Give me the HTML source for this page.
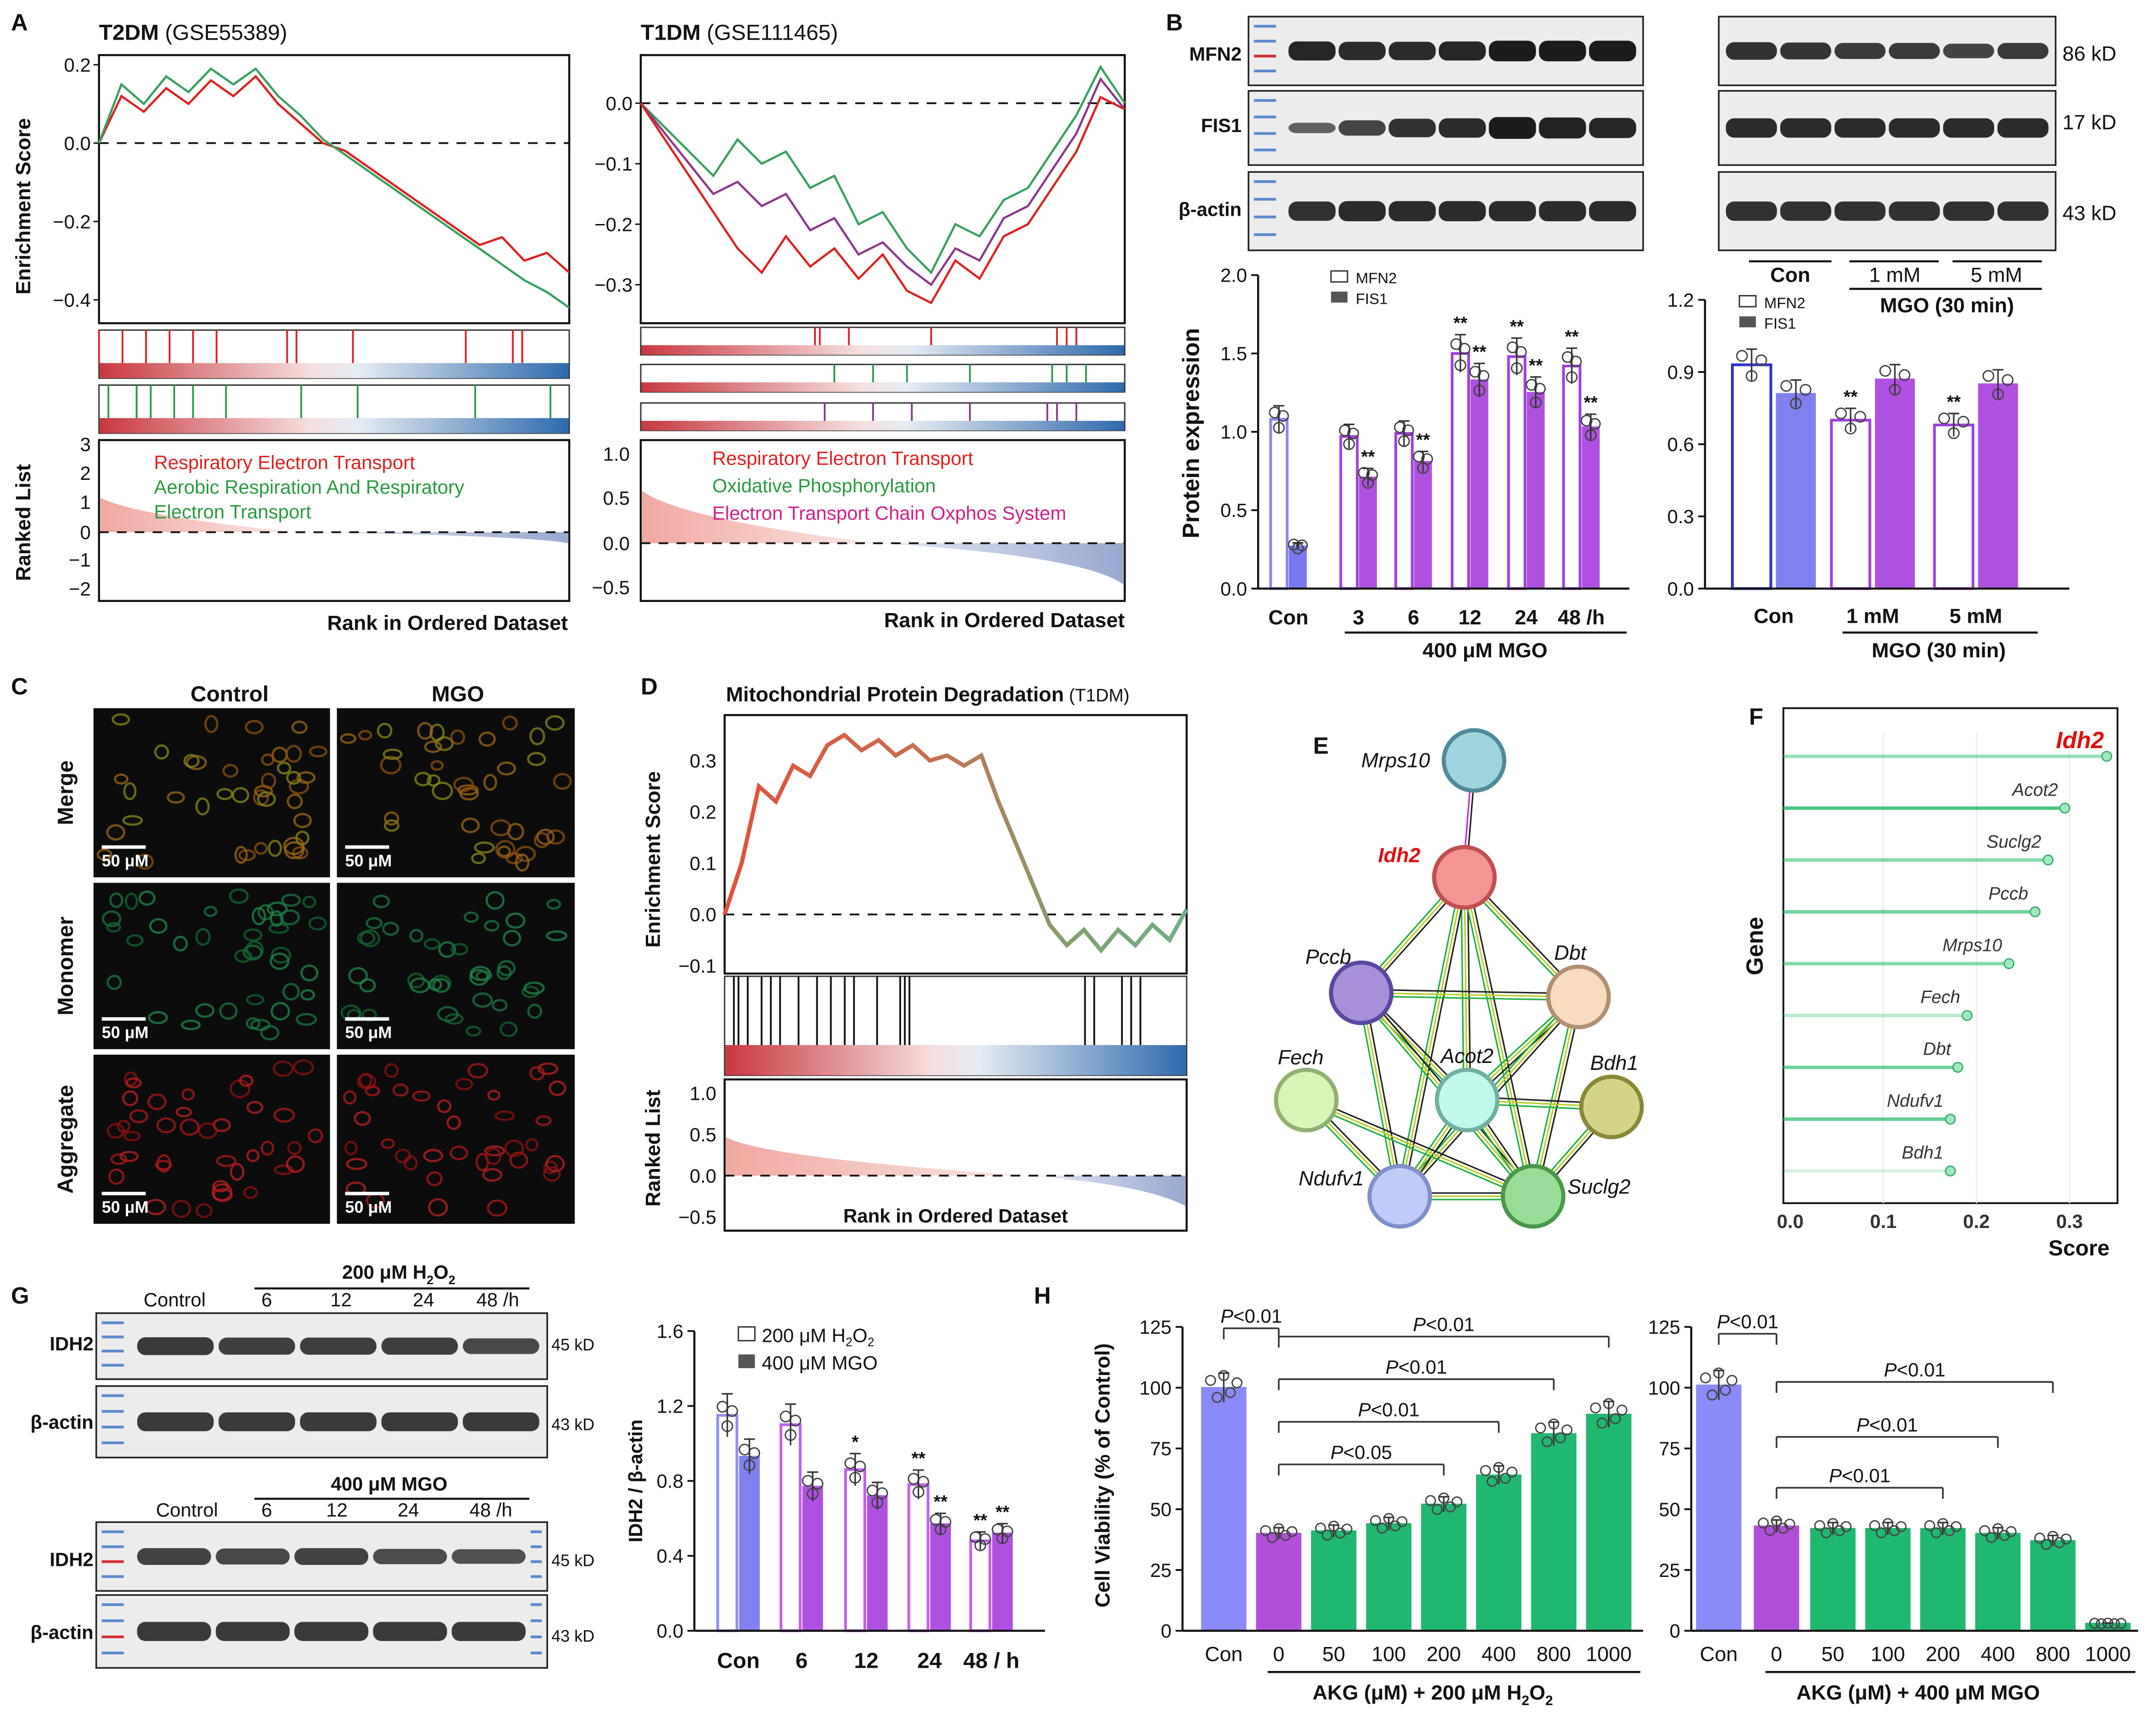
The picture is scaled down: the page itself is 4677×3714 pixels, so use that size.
<!DOCTYPE html>
<html><head><meta charset="utf-8"><style>
html,body{margin:0;padding:0;background:#fff;}
svg{display:block;font-family:"Liberation Sans",Arial,sans-serif;}
</style></head><body>
<svg id="fig" width="4677" height="3714" viewBox="0 0 1568 1245" xmlns="http://www.w3.org/2000/svg">
<defs>
<linearGradient id="rb" x1="0" x2="1"><stop offset="0" stop-color="#c8383f"/><stop offset="0.45" stop-color="#f6dede"/><stop offset="0.55" stop-color="#e6ecf4"/><stop offset="1" stop-color="#2f6aad"/></linearGradient>
<linearGradient id="rankR" x1="0" x2="1"><stop offset="0" stop-color="#f0a8a0"/><stop offset="1" stop-color="#fbe8e4"/></linearGradient>
<linearGradient id="rankB" x1="0" x2="1"><stop offset="0" stop-color="#e8ecf6"/><stop offset="1" stop-color="#98a8d0"/></linearGradient>
<linearGradient id="esD" x1="527" x2="863" gradientUnits="userSpaceOnUse"><stop offset="0" stop-color="#e2503a"/><stop offset="0.45" stop-color="#c87050"/><stop offset="0.75" stop-color="#80a070"/><stop offset="1" stop-color="#70b088"/></linearGradient>
</defs>
</svg>
<script>
// ---------- data ----------
const t2dmRed=[0,0.12,0.08,0.14,0.10,0.16,0.12,0.17,0.10,0.05,0.00,-0.02,-0.06,-0.10,-0.14,-0.18,-0.22,-0.26,-0.24,-0.30,-0.28,-0.33];
const t2dmGreen=[0,0.15,0.10,0.17,0.13,0.19,0.15,0.19,0.12,0.07,0.01,-0.03,-0.07,-0.11,-0.15,-0.19,-0.23,-0.27,-0.31,-0.35,-0.38,-0.42];
const t1dmRed=[0,-0.06,-0.12,-0.18,-0.24,-0.28,-0.22,-0.27,-0.24,-0.29,-0.25,-0.31,-0.33,-0.26,-0.29,-0.22,-0.20,-0.14,-0.08,0.01,-0.01];
const t1dmGreen=[0,-0.04,-0.08,-0.12,-0.06,-0.1,-0.08,-0.14,-0.12,-0.2,-0.18,-0.24,-0.28,-0.2,-0.22,-0.16,-0.14,-0.08,-0.02,0.06,0.0];
const t1dmPurple=[0,-0.05,-0.10,-0.15,-0.13,-0.17,-0.15,-0.21,-0.19,-0.25,-0.23,-0.27,-0.3,-0.24,-0.26,-0.19,-0.17,-0.11,-0.05,0.04,-0.01];
const mitoES=[0,0.1,0.25,0.22,0.29,0.27,0.33,0.35,0.32,0.34,0.31,0.33,0.30,0.31,0.29,0.31,0.22,0.14,0.06,-0.02,-0.06,-0.03,-0.07,-0.03,-0.06,-0.02,-0.05,0.01];
const bGroups=['Con','3','6','12','24','48 /h'];
const bMFN2=[1.08,0.97,0.99,1.50,1.48,1.42];
const bFIS1=[0.27,0.71,0.81,1.33,1.25,1.03];
const bRGroups=['Con','1 mM','5 mM'];
const bRMFN2=[0.93,0.70,0.68];
const bRFIS1=[0.81,0.87,0.85];
const fGenes=['Idh2','Acot2','Suclg2','Pccb','Mrps10','Fech','Dbt','Ndufv1','Bdh1'];
const fScores=[0.34,0.295,0.277,0.263,0.235,0.19,0.18,0.172,0.172];
const gGroups=['Con','6','12','24','48 / h'];
const gH2O2=[1.15,1.10,0.86,0.78,0.48];
const gMGO=[0.93,0.77,0.72,0.57,0.52];
const hCats=['Con','0','50','100','200','400','800','1000'];
const hLeft=[100,40,41,44,52,64,81,89];
const hRight=[101,43,42,42,42,40,37,3];

// ---------- helpers ----------
const NS='http://www.w3.org/2000/svg';
const svg=document.getElementById('fig');
function mk(tag,attrs,parent){const e=document.createElementNS(NS,tag);for(const k in attrs)e.setAttribute(k,attrs[k]);(parent||svg).appendChild(e);return e;}
function tx(x,y,s,size,opts){const e=mk('text',Object.assign({x:x,y:y,'font-size':size,fill:'#111'},opts||{}));e.textContent=s;return e;}
function ln(x1,y1,x2,y2,st,w,extra){return mk('line',Object.assign({x1,y1,x2,y2,stroke:st||'#111','stroke-width':w||1.5},extra||{}));}
function vtext(x,y,s,size){const e=tx(x,y,s,size,{'font-weight':'bold','text-anchor':'middle',transform:'rotate(-90 '+x+' '+y+')'});return e;}
let seed=7;function rnd(){seed=(seed*16807)%2147483647;return seed/2147483647;}

// panel labels
[['A',8,22],['B',848,22],['C',8,505],['D',466,505],['E',955,548],['F',1272,527],['G',8,948],['H',752,948]].forEach(p=>{const e=tx(p[1],p[2],p[0],17,{'font-weight':'bold'});

});

// ---------- GSEA generic ----------
function gsea(cfg){
  const g=mk('g',{});
  
  
  const box=mk('rect',{x:cfg.x0,y:cfg.y0,width:cfg.x1-cfg.x0,height:cfg.y1-cfg.y0,fill:'none',stroke:'#111','stroke-width':1.5},g);
  
  
  const yv=v=>cfg.yz-v*cfg.k;
  const zl=ln(cfg.x0,yv(0),cfg.x1,yv(0),'#111',1.3,{'stroke-dasharray':'7 6'});g.appendChild(zl);
  
  
  cfg.ticks.forEach(t=>{const e=tx(cfg.x0-6,yv(t)+5,(t<0?'\u2212':'')+Math.abs(t).toFixed(1),14,{'text-anchor':'end'});g.appendChild(e);
    
    
    const tk=ln(cfg.x0-4,yv(t),cfg.x0,yv(t),'#111',1);g.appendChild(tk);});
  cfg.series.forEach(s=>{
    const n=s.vals.length;let d='';
    s.vals.forEach((v,i)=>{const x=cfg.x0+(cfg.x1-cfg.x0)*i/(n-1);d+=(i?'L':'M')+x.toFixed(1)+' '+yv(v).toFixed(1);});
    const p=mk('path',{d:d,fill:'none',stroke:s.color,'stroke-width':1.6},g);
    
    
  });
  return yv;
}
function strip(x0,y0,x1,y1,hits,color,gradH,name){
  const r=mk('rect',{x:x0,y:y0,width:x1-x0,height:y1-y0,fill:'#fff',stroke:'#333','stroke-width':1});
  
  
  mk('rect',{x:x0+0.5,y:y1-gradH,width:x1-x0-1,height:gradH,fill:'url(#rb)'});
  hits.forEach(f=>{ln(x0+(x1-x0)*f,y0,x0+(x1-x0)*f,y1-gradH,color,1.3);});
}
function ranked(x0,y0,x1,y1,yz,pos,neg,split,name){
  const r=mk('rect',{x:x0,y:y0,width:x1-x0,height:y1-y0,fill:'none',stroke:'#111','stroke-width':1.5});
  
  
  const xs=x0+(x1-x0)*split;
  mk('path',{d:`M${x0+1} ${yz} L${x0+1} ${yz-pos} Q${x0+30} ${yz-pos*0.45} ${xs} ${yz} Z`,fill:'url(#rankR)'});
  mk('path',{d:`M${xs} ${yz} Q${x1-30} ${yz+neg*0.3} ${x1-1} ${yz+neg} L${x1-1} ${yz} Z`,fill:'url(#rankB)'});
  ln(x0,yz,x1,yz,'#111',1.3,{'stroke-dasharray':'7 6'});
}

// ---------- Panel A left ----------
{const t=tx(72,29,'',16);t.innerHTML='<tspan font-weight="bold">T2DM</tspan> (GSE55389)';

}
gsea({name:'t2dm-es-plot',x0:72,y0:40,x1:414,y1:235,yz:104,k:285,ticks:[0.2,0,-0.2,-0.4],
 series:[{vals:t2dmRed,color:'#e02020',name:'t2dm-red-es-line'},{vals:t2dmGreen,color:'#3aa060',name:'t2dm-green-es-line'}]});
strip(72,240,414,275,[0.0,0.05,0.1,0.15,0.2,0.25,0.4,0.42,0.54,0.78,0.88,0.9],'#e02020',11,'t2dm-red-hits');
strip(72,280,414,315,[0.02,0.08,0.11,0.16,0.2,0.27,0.43,0.55,0.8,0.96],'#2a9a50',11,'t2dm-green-hits');
ranked(72,320,414,437,387,25,8,0.42,'t2dm-ranked-list');
[[3,323],[2,344],[1,365],[0,387],[-1,407],[-2,428]].forEach(a=>{tx(66,a[1]+5,(a[0]<0?'\u2212':'')+Math.abs(a[0]),14,{'text-anchor':'end'});});
{const e=tx(112,341,'Respiratory Electron Transport',14,{fill:'#e02020'});}
{const e=tx(112,359,'Aerobic Respiration And Respiratory',14,{fill:'#2a9a40'});}
tx(112,377,'Electron Transport',14,{fill:'#2a9a40'});
tx(413,458,'Rank in Ordered Dataset',15,{'font-weight':'bold','text-anchor':'end'});
vtext(22,150,'Enrichment Score',15);
vtext(22,380,'Ranked List',15);

// ---------- Panel A right ----------
{const t=tx(466,29,'',16);t.innerHTML='<tspan font-weight="bold">T1DM</tspan> (GSE111465)';

}
gsea({name:'t1dm-es-plot',x0:466,y0:40,x1:818,y1:235,yz:75,k:440,ticks:[0,-0.1,-0.2,-0.3],
 series:[{vals:t1dmGreen,color:'#3aa060',name:'t1dm-green-es-line'},{vals:t1dmPurple,color:'#8a3a8a',name:'t1dm-purple-es-line'},{vals:t1dmRed,color:'#e02020',name:'t1dm-red-es-line'}]});
strip(466,238,818,258,[0.36,0.37,0.43,0.6,0.86,0.88,0.9],'#e02020',7,'t1dm-red-hits');
strip(466,265,818,285,[0.4,0.48,0.55,0.68,0.85,0.88,0.92],'#2a9a50',7,'t1dm-green-hits');
strip(466,293,818,313,[0.38,0.48,0.56,0.68,0.84,0.86,0.9],'#8a3a8a',7,'t1dm-purple-hits');
ranked(466,320,818,437,395,38,30,0.49,'t1dm-ranked-list');
[['1.0',330],['0.5',362],['0.0',395],['\u22120.5',427]].forEach(a=>{tx(458,a[1]+5,a[0],14,{'text-anchor':'end'});});
tx(518,338,'Respiratory Electron Transport',14,{fill:'#e02020'});
tx(518,358,'Oxidative Phosphorylation',14,{fill:'#2a9a40'});
tx(518,378,'Electron Transport Chain Oxphos System',14,{fill:'#d0208a'});
tx(818,456,'Rank in Ordered Dataset',15,{'font-weight':'bold','text-anchor':'end'});

// ---------- blots ----------
function blot(x0,y0,x1,y1,lanes,widths,dark,ladder,name,ladderRight){
  const g=mk('g',{});
  
  
  mk('rect',{x:x0,y:y0,width:x1-x0,height:y1-y0,fill:'#ececec',stroke:'#222','stroke-width':1.2},g);
  const lx=ladder?x0+28:x0+4;const rx=ladderRight?x1-14:x1-4;
  if(ladder){for(let i=0;i<4;i++)mk('rect',{x:x0+4,y:y0+6+i*(y1-y0-12)/3.5,width:16,height:2,fill:i==2&&ladder=='red'?'#d03030':'#5a8ad0'},g);}
  if(ladderRight){for(let i=0;i<4;i++)mk('rect',{x:x1-12,y:y0+6+i*(y1-y0-12)/3.5,width:8,height:2,fill:'#5a8ad0'},g);}
  const lw=(rx-lx)/lanes;
  for(let i=0;i<lanes;i++){const w=widths[i]||0.8;
    mk('rect',{x:lx+lw*(i+0.5)-lw*0.47,y:(y0+y1)/2-((y1-y0)*0.11*w+2),width:lw*0.94,height:2*((y1-y0)*0.11*w+2),rx:6,fill:dark,opacity:0.5+0.45*w},g);}
}
blot(908,12,1195,62,7,[0.9,0.85,0.85,0.9,1,1,1],'#111','red','blot-b-mfn2');
blot(908,66,1195,120,7,[0.3,0.6,0.8,0.85,1,0.95,0.9],'#111','blue','blot-b-fis1');
blot(908,125,1195,182,7,[0.8,0.85,0.85,0.85,0.85,0.85,0.85],'#111','blue','blot-b-actin');
blot(1250,12,1495,62,6,[0.8,0.75,0.7,0.7,0.6,0.7],'#111',null,'blot-b2-mfn2');
blot(1250,66,1495,120,6,[0.85,0.85,0.85,0.85,0.85,0.85],'#111',null,'blot-b2-fis1');
blot(1250,125,1495,182,6,[0.8,0.8,0.8,0.8,0.8,0.8],'#111',null,'blot-b2-actin');
[['MFN2',44],['FIS1',96],['\u03b2-actin',157]].forEach(a=>tx(903,a[1],a[0],14,{'font-weight':'bold','text-anchor':'end'}));
[['86 kD',44],['17 kD',94],['43 kD',160]].forEach(a=>tx(1500,a[1],a[0],15));
tx(1302,205,'Con',15,{'font-weight':'bold','text-anchor':'middle'});
tx(1378,205,'1 mM',15,{'text-anchor':'middle'});
tx(1452,205,'5 mM',15,{'text-anchor':'middle'});
ln(1272,190,1332,190);ln(1345,190,1410,190);ln(1420,190,1485,190);
ln(1345,210,1485,210);
tx(1416,227,'MGO (30 min)',15,{'font-weight':'bold','text-anchor':'middle'});

// ---------- bar chart helper ----------
function barChart(c){
  const g=mk('g',{});
  
  
  const yv=v=>c.yb-(v-0)/(c.ymax)*(c.yb-c.yt);
  ln(c.x0,c.yt,c.x0,c.yb,'#111',1.5);ln(c.x0,c.yb,c.x1,c.yb,'#111',1.5);
  c.ticks.forEach(t=>{ln(c.x0-5,yv(t),c.x0,yv(t),'#111',1.3);
    const e=tx(c.x0-8,yv(t)+5,c.fmt(t),c.fs||14,{'text-anchor':'end'});
    
    });
  c.groups.forEach((gname,i)=>{
    const cx=c.cx[i];
    c.series.forEach((s,j)=>{
      const v=s.vals[i];const bx=cx+(j-(c.series.length-1)/2)*c.bw*1.15-c.bw/2;
      const open=s.open;const col=s.colorFn(i);
      const b=mk('rect',{x:bx,y:yv(v),width:c.bw,height:c.yb-yv(v),fill:open?'#fff':col,stroke:col,'stroke-width':open?2:1},g);
      
      
      const eb=c.err;ln(bx+c.bw/2,yv(v*(1-eb)),bx+c.bw/2,yv(v*(1+eb)),'#333',1.1);ln(bx+c.bw/2-4,yv(v*(1+eb)),bx+c.bw/2+4,yv(v*(1+eb)),'#333',1.1);
      const offs=c.dots||[[-0.25,0.04],[0.25,0.02],[0,-0.05]];
      offs.forEach(o=>mk('circle',{cx:bx+c.bw/2+o[0]*c.bw,cy:yv(v*(1+o[1])),r:c.dr||3.8,fill:'none',stroke:'#444','stroke-width':1},g));
      if(s.stars&&s.stars[i])tx(bx+c.bw/2,yv(v*(1+eb))-4,s.stars[i],13,{'text-anchor':'middle','font-weight':'bold'});
    });
    if(c.xlab!==false){const e=tx(cx,c.yb+c.xly,gname,c.xfs||15,{'text-anchor':'middle','font-weight':c.xbold?'bold':'normal'});
    
    }
  });
}
// B left
barChart({name:'b-protein-bar-chart',x0:915,x1:1185,yt:200,yb:428,ymax:2,ticks:[0,0.5,1,1.5,2],fmt:t=>t.toFixed(1),
 groups:bGroups,cx:[937,988,1028,1069,1110,1150],bw:12,err:0.08,xly:26,xbold:true,
 series:[{key:'mfn2',vals:bMFN2,open:true,colorFn:i=>i?'#a040e0':'#8888f0',stars:['','','','**','**','**']},
         {key:'fis1',vals:bFIS1,open:false,colorFn:i=>i?'#b050e0':'#7878f0',stars:['','**','**','**','**','**']}]});
vtext(872,315,'Protein expression',17);
mk('rect',{x:968,y:197,width:12,height:8,fill:'#fff',stroke:'#333'});tx(986,206,'MFN2',11);
mk('rect',{x:968,y:212,width:12,height:8,fill:'#555'});tx(986,221,'FIS1',11);
ln(978,460,1183,460);tx(1080,478,'400 \u03bcM MGO',15,{'font-weight':'bold','text-anchor':'middle'});
// B right
barChart({name:'b2-protein-bar-chart',x0:1240,x1:1505,yt:218,yb:428,ymax:1.2,ticks:[0,0.3,0.6,0.9,1.2],fmt:t=>t.toFixed(1),
 groups:bRGroups,cx:[1290,1362,1437],bw:28,err:0.07,xly:25,xbold:true,
 series:[{key:'mfn2',vals:bRMFN2,open:true,colorFn:i=>i?'#a040e0':'#3030d0',stars:['','**','**']},
         {key:'fis1',vals:bRFIS1,open:false,colorFn:i=>i?'#b050e0':'#8080f0'}]});
mk('rect',{x:1265,y:215,width:12,height:8,fill:'#fff',stroke:'#333'});tx(1283,224,'MFN2',11);
mk('rect',{x:1265,y:230,width:12,height:8,fill:'#555'});tx(1283,239,'FIS1',11);
ln(1340,460,1482,460);tx(1410,478,'MGO (30 min)',15,{'font-weight':'bold','text-anchor':'middle'});

// ---------- Panel C ----------
tx(167,510,'Control',16,{'font-weight':'bold','text-anchor':'middle'});
tx(333,510,'MGO',16,{'font-weight':'bold','text-anchor':'middle'});
const rowsC=[['Merge',515,638],['Monomer',642,763],['Aggregate',767,890]];
rowsC.forEach((r,ri)=>{
  vtext(53,(r[1]+r[2])/2,r[0],16);
  [[68,240],[245,418]].forEach((cc,ci)=>{
    const img=mk('rect',{x:cc[0],y:r[1],width:cc[1]-cc[0],height:r[2]-r[1],fill:'#0c0c0c'});
    
    
    const cols=[['#a06818','#905010','#8a8a18'],['#1a7a40','#208a48','#106830'],['#b01818','#901010','#c02020']][ri];
    for(let k=0;k<40;k++){const x=cc[0]+8+rnd()*(cc[1]-cc[0]-16),y=r[1]+8+rnd()*(r[2]-r[1]-16);
      mk('ellipse',{cx:x,cy:y,rx:4+rnd()*3,ry:3+rnd()*3,fill:'none',stroke:cols[k%3],'stroke-width':1.6,opacity:0.75});}
    ln(cc[0]+6,r[2]-22,cc[0]+38,r[2]-22,'#fff',2.5);
    tx(cc[0]+6,r[2]-8,'50 \u03bcM',12,{fill:'#fff','font-weight':'bold'});
  });
});

// ---------- Panel D ----------
{const t=tx(528,510,'',15);t.innerHTML='<tspan font-weight="bold">Mitochondrial Protein Degradation</tspan><tspan font-size="13"> (T1DM)</tspan>';}
{const x0=527,x1=863,yz=665,k=373;
 const fr=mk('rect',{x:x0,y:520,width:x1-x0,height:188,fill:'none',stroke:'#111','stroke-width':1.5});
 
 
 ln(x0,yz,x1,yz,'#111',1.3,{'stroke-dasharray':'7 6'});
 [0.3,0.2,0.1,0,-0.1].forEach(t=>tx(x0-6,yz-t*k+5,(t<0?'\u2212':'')+Math.abs(t).toFixed(1),14,{'text-anchor':'end'}));
 let d='';mitoES.forEach((v,i)=>{const x=x0+(x1-x0)*i/(mitoES.length-1);d+=(i?'L':'M')+x.toFixed(1)+' '+(yz-v*k).toFixed(1);});
 const p=mk('path',{d:d,fill:'none',stroke:'url(#esD)','stroke-width':3});
 
 
 strip(x0,710,x1,782,[0.02,0.03,0.05,0.08,0.1,0.12,0.16,0.2,0.23,0.26,0.28,0.33,0.38,0.39,0.4,0.78,0.8,0.86,0.88,0.9],'#111',22,'d-hit-strip');
 ranked(x0,785,x1,895,855,28,22,0.66,'d-ranked-list');
 [['1.0',795],['0.5',825],['0.0',855],['\u22120.5',885]].forEach(a=>tx(x0-6,a[1]+5,a[0],14,{'text-anchor':'end'}));
 tx(695,889,'Rank in Ordered Dataset',14,{'font-weight':'bold','text-anchor':'middle'});
 vtext(480,625,'Enrichment Score',15);vtext(480,835,'Ranked List',15);}

// ---------- Panel E network ----------
const nodes={Mrps10:[1072,553,'#9fd4de','#4f8a9a'],Idh2:[1065,638,'#f49494','#c05050'],Pccb:[990,722,'#a890d8','#5a48a0'],Dbt:[1148,725,'#f8dcc0','#b09070'],
Acot2:[1067,800,'#c0f8ec','#70b0a0'],Fech:[950,800,'#d8f4b8','#90b070'],Bdh1:[1172,805,'#d4d488','#888838'],Ndufv1:[1018,870,'#c0ccf8','#8090c8'],Suclg2:[1115,870,'#98dc98','#489848']};
const edges=[['Mrps10','Idh2'],['Idh2','Pccb'],['Idh2','Dbt'],['Idh2','Acot2'],['Idh2','Ndufv1'],['Idh2','Suclg2'],['Pccb','Dbt'],['Pccb','Acot2'],['Pccb','Ndufv1'],['Pccb','Suclg2'],
['Dbt','Acot2'],['Dbt','Suclg2'],['Dbt','Ndufv1'],['Acot2','Bdh1'],['Acot2','Ndufv1'],['Acot2','Suclg2'],['Fech','Ndufv1'],['Fech','Suclg2'],['Bdh1','Suclg2'],['Ndufv1','Suclg2']];
const ecol=['#222','#b8d020','#20b040','#d020d0'];
edges.forEach(e=>{const a=nodes[e[0]],b=nodes[e[1]];const dx=b[0]-a[0],dy=b[1]-a[1],L=Math.hypot(dx,dy),nx=-dy/L,ny=dx/L;
  const cs=e[0]=='Mrps10'?['#222','#d020d0']:ecol.slice(0,3);
  cs.forEach((c,i)=>{const o=(i-(cs.length-1)/2)*2.4;ln(a[0]+nx*o,a[1]+ny*o,b[0]+nx*o,b[1]+ny*o,c,1.1);});});
Object.keys(nodes).forEach(n=>{const v=nodes[n];
  const c=mk('circle',{cx:v[0],cy:v[1],r:22,fill:v[2],stroke:v[3],'stroke-width':3});
  
  });
[['Mrps10',1040,558,'end'],['Idh2',1033,627,'end'],['Pccb',966,701,'middle'],['Dbt',1142,698,'middle'],['Acot2',1067,773,'middle'],['Fech',946,774,'middle'],['Bdh1',1174,778,'middle'],['Ndufv1',992,862,'end'],['Suclg2',1140,868,'start']]
.forEach(a=>{const e=tx(a[1],a[2],a[0],15,{'font-style':'italic','text-anchor':a[3],fill:a[0]=='Idh2'?'#e01010':'#111','font-weight':a[0]=='Idh2'?'bold':'normal'});
  
  });

// ---------- Panel F lollipop ----------
{const x0=1297,x1=1540,yt=515,yb=875,xv=v=>1302+v*677;
 const fr=mk('rect',{x:x0,y:yt,width:x1-x0,height:yb-yt,fill:'none',stroke:'#111','stroke-width':1.3});
 
 
 [0.1,0.2,0.3].forEach(t=>ln(xv(t),yt+18,xv(t),yb,'#eee',1));
 [0,0.1,0.2,0.3].forEach(t=>{const e=tx(xv(t),893,t.toFixed(1),14,{'text-anchor':'middle','font-weight':'bold',fill:'#333'});
   
   });
 fGenes.forEach((gname,i)=>{const y=550+i*37.7;const op=[0.5,0.9,0.6,0.7,0.6,0.35,0.7,0.75,0.2][i];
   const l=ln(x0,y,xv(fScores[i]),y,'#30c070',2.5,{opacity:op});
   
   
   mk('circle',{cx:xv(fScores[i]),cy:y,r:3.5,fill:'#a0e8c0',stroke:'#40b070','stroke-width':1});
   const big=i==0;
   tx(xv(fScores[i])-(big?2:5),y-(big?6:9),gname,big?17:13,{'text-anchor':'end','font-style':'italic',fill:big?'#e01010':'#333','font-weight':big?'bold':'normal'});});
 tx(1512,913,'Score',16,{'font-weight':'bold','text-anchor':'middle'});
 vtext(1282,688,'Gene',17);}

// ---------- Panel G ----------
{const t=tx(290,930,'',14,{'font-weight':'bold','text-anchor':'middle'});t.innerHTML='200 \u03bcM H<tspan font-size="9" dy="4">2</tspan><tspan dy="-4">O</tspan><tspan font-size="9" dy="4">2</tspan>';}
ln(185,937,385,937);
tx(127,950,'Control',14,{'text-anchor':'middle'});[['6',194],['12',248],['24',308],['48 /h',362]].forEach(a=>tx(a[1],950,a[0],14,{'text-anchor':'middle'}));
blot(70,955,398,1003,5,[0.85,0.8,0.8,0.8,0.7],'#222','blue','blot-g-idh2-h2o2');
blot(70,1008,398,1060,5,[0.85,0.85,0.85,0.85,0.85],'#222','blue','blot-g-actin-h2o2');
tx(283,1084,'400 \u03bcM MGO',14,{'font-weight':'bold','text-anchor':'middle'});ln(185,1090,385,1090);
tx(136,1103,'Control',14,{'text-anchor':'middle'});[['6',194],['12',245],['24',297],['48 /h',357]].forEach(a=>tx(a[1],1103,a[0],14,{'text-anchor':'middle'}));
blot(70,1107,398,1157,5,[0.75,0.7,0.75,0.65,0.6],'#222','red','blot-g-idh2-mgo',true);
blot(70,1160,398,1213,5,[0.85,0.85,0.85,0.85,0.85],'#222','red','blot-g-actin-mgo',true);
[['IDH2',982],['\u03b2-actin',1039],['IDH2',1139],['\u03b2-actin',1192]].forEach(a=>tx(68,a[1],a[0],14,{'font-weight':'bold','text-anchor':'end'}));
[['45 kD',982],['43 kD',1040],['45 kD',1139],['43 kD',1194]].forEach(a=>tx(401,a[1],a[0],12));
barChart({name:'g-idh2-bar-chart',x0:505,x1:760,yt:968,yb:1186,ymax:1.6,ticks:[0,0.4,0.8,1.2,1.6],fmt:t=>t.toFixed(1),
 groups:gGroups,cx:[537,583,630,676,721],bw:14,err:0.1,xly:27,xbold:true,xfs:16,
 series:[{key:'h2o2',vals:gH2O2,open:true,colorFn:i=>i?'#c060f0':'#9090f0',stars:['','','*','**','**']},
         {key:'mgo',vals:gMGO,open:false,colorFn:i=>i?'#b050e0':'#8080f0',stars:['','','','**','**']}]});
vtext(467,1077,'IDH2 / \u03b2-actin',14);
mk('rect',{x:537,y:965,width:12,height:10,fill:'#fff',stroke:'#333'});
{const t=tx(554,976,'',14);t.innerHTML='200 \u03bcM H<tspan font-size="9" dy="3">2</tspan><tspan dy="-3">O</tspan><tspan font-size="9" dy="3">2</tspan>';}
mk('rect',{x:537,y:985,width:12,height:10,fill:'#555'});tx(554,996,'400 \u03bcM MGO',14);

// ---------- Panel H ----------
const hcol=i=>i==0?'#8a8af8':(i==1?'#b050d8':'#20b870');
function hChart(name,x0,x1,cx,vals,brackets){
 barChart({name:name,x0:x0,x1:x1,yt:965,yb:1186,ymax:125,ticks:[0,25,50,75,100,125],fmt:t=>String(t),
  groups:hCats,cx:cx,bw:32,err:0.06,xly:22,xbold:false,dots:[[-0.3,0.03],[0.3,0.02],[-0.15,-0.04],[0.15,-0.02],[0,0.05]],dr:3.5,
  series:[{key:'viability',vals:vals,open:false,colorFn:hcol}]});
 brackets.forEach(b=>{ln(cx[b[0]],b[2]+8,cx[b[0]],b[2],'#333',1.2);ln(cx[b[0]],b[2],cx[b[1]],b[2],'#333',1.2);ln(cx[b[1]],b[2],cx[b[1]],b[2]+8,'#333',1.2);
   const t=tx((cx[b[0]]+cx[b[1]])/2,b[2]-4,'',14,{'text-anchor':'middle'});t.innerHTML='<tspan font-style="italic">P</tspan>&lt;'+b[3];});
 ln(cx[1]-8,1216,x1-2,1216);
}
hChart('h-viability-h2o2-chart',860,1195,[890,930,970,1010,1050,1090,1130,1170],hLeft,[[0,1,966,'0.01'],[1,7,972,'0.01'],[1,6,1003,'0.01'],[1,5,1034,'0.01'],[1,4,1065,'0.05']]);
hChart('h-viability-mgo-chart',1230,1555,[1250,1292,1333,1373,1413,1453,1493,1533],hRight,[[0,1,970,'0.01'],[1,6,1005,'0.01'],[1,5,1045,'0.01'],[1,4,1082,'0.01']]);
{const t=tx(1042,1236,'',15,{'font-weight':'bold','text-anchor':'middle'});t.innerHTML='AKG (\u03bcM) + 200 \u03bcM H<tspan font-size="10" dy="4">2</tspan><tspan dy="-4">O</tspan><tspan font-size="10" dy="4">2</tspan>';
 
 }
tx(1395,1236,'AKG (\u03bcM) + 400 \u03bcM MGO',15,{'font-weight':'bold','text-anchor':'middle'});
vtext(807,1073,'Cell Viability (% of Control)',15);
</script>
</body></html>
